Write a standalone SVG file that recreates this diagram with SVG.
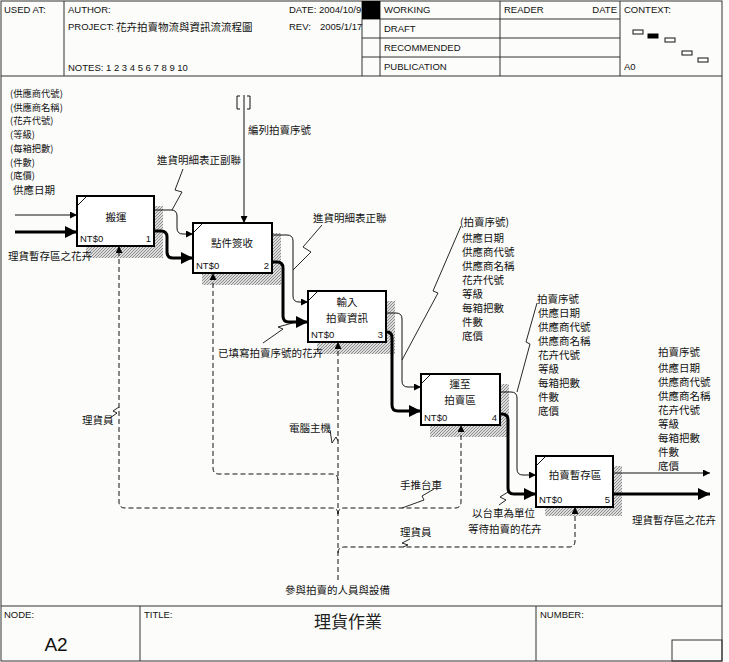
<svg xmlns="http://www.w3.org/2000/svg" width="729" height="662" viewBox="0 0 729 662">
<defs>
<style>
.hd{font-family:"Liberation Sans",Arial,sans-serif;font-size:9.5px;fill:#111}
.cj{font-family:"Noto Sans CJK TC","Noto Sans CJK SC",sans-serif;font-size:10.5px;fill:#111}
.sm{font-size:9.3px}
.ct{text-anchor:middle}
.bx{fill:#fff;stroke:#000;stroke-width:2}
.sh{fill:url(#hatch)}
.nt{font-family:"Liberation Sans",Arial,sans-serif;font-size:9.5px;fill:#111}
.t{fill:none;stroke:#111;stroke-width:1}
.k{fill:none;stroke:#000;stroke-width:3}
.d{fill:none;stroke:#111;stroke-width:1;stroke-dasharray:5,3}
.fr{fill:none;stroke:#333;stroke-width:1}
.sq{fill:none;stroke:#111;stroke-width:0.9}
</style>
<pattern id="hatch" width="3" height="3" patternUnits="userSpaceOnUse"><rect width="3" height="3" fill="#dcdcdc"/><path d="M0,3 L3,0" stroke="#7a7a7a" stroke-width="0.8"/></pattern>
<marker id="a" viewBox="0 0 10 10" refX="10" refY="5" markerWidth="9" markerHeight="7" markerUnits="userSpaceOnUse" orient="auto"><path d="M0,0 L10,5 L0,10 z" fill="#000"/></marker>
<marker id="ak" viewBox="0 0 10 10" refX="10" refY="5" markerWidth="15" markerHeight="12" markerUnits="userSpaceOnUse" orient="auto"><path d="M0,0 L10,5 L0,10 z" fill="#000"/></marker>
</defs>
<rect width="729" height="662" fill="#fcfcfa"/>

<g id="frame">
<rect class="fr" x="1" y="1" width="721" height="660"/>
<line class="fr" x1="1" y1="76" x2="722" y2="76"/>
<line class="fr" x1="64" y1="1" x2="64" y2="76"/>
<line class="fr" x1="362" y1="1" x2="362" y2="76"/>
<line class="fr" x1="380" y1="1" x2="380" y2="76"/>
<line class="fr" x1="500" y1="1" x2="500" y2="76"/>
<line class="fr" x1="620" y1="1" x2="620" y2="76"/>
<line class="fr" x1="362" y1="19" x2="620" y2="19"/>
<line class="fr" x1="362" y1="38" x2="620" y2="38"/>
<line class="fr" x1="362" y1="57" x2="620" y2="57"/>
<rect x="362" y="1" width="18" height="18" fill="#000"/>
<text class="hd" x="4" y="13">USED AT:</text>
<text class="hd" x="68" y="13">AUTHOR:</text>
<text class="hd" x="289" y="13" font-size="9">DATE: 2004/10/9</text>
<text class="hd" x="68" y="30">PROJECT:</text>
<text class="cj" x="116" y="31">花卉拍賣物流與資訊流流程圖</text>
<text class="hd" x="289" y="30">REV:</text>
<text class="hd" x="320" y="30">2005/1/17</text>
<text class="hd" x="68" y="71">NOTES: 1 2 3 4 5 6 7 8 9 10</text>
<text class="hd" x="384" y="13">WORKING</text>
<text class="hd" x="384" y="32">DRAFT</text>
<text class="hd" x="384" y="51">RECOMMENDED</text>
<text class="hd" x="384" y="70">PUBLICATION</text>
<text class="hd" x="504" y="13">READER</text>
<text class="hd" x="617" y="13" text-anchor="end">DATE</text>
<text class="hd" x="624" y="13">CONTEXT:</text>
<text class="hd" x="624" y="70">A0</text>
<rect x="633" y="30" width="10" height="4" fill="#fff" stroke="#111"/>
<rect x="648" y="34" width="10" height="4" fill="#000" stroke="#000"/>
<rect x="665" y="38" width="10" height="4" fill="#fff" stroke="#111"/>
<rect x="682" y="51" width="10" height="4" fill="#fff" stroke="#111"/>
<rect x="698" y="58" width="10" height="4" fill="#fff" stroke="#111"/>
<line class="fr" x1="1" y1="606" x2="722" y2="606"/>
<line class="fr" x1="140" y1="606" x2="140" y2="661"/>
<line class="fr" x1="536" y1="606" x2="536" y2="661"/>
<rect class="fr" x="672" y="640" width="50" height="21"/>
<text class="hd" x="4" y="618">NODE:</text>
<text class="hd" x="144" y="618">TITLE:</text>
<text class="hd" x="540" y="618">NUMBER:</text>
<text x="56" y="651" font-family="Liberation Sans, Arial, sans-serif" font-size="19" text-anchor="middle" fill="#111">A2</text>
<text x="348" y="628" font-family="Noto Sans CJK TC, sans-serif" font-size="17" text-anchor="middle" fill="#222">理貨作業</text>
</g>

<g id="n1">
<rect class="sh" x="86" y="206" width="77" height="52"/>
<rect class="bx" x="77" y="196" width="77" height="50"/>
<path class="t" d="M78,205 L86,197"/>
<text class="cj ct" x="116" y="221">搬運</text>
<text class="nt" x="80" y="242">NT$0</text>
<text class="nt" x="151" y="242" text-anchor="end">1</text>
</g>
<g id="n2">
<rect class="sh" x="202" y="233" width="79" height="52"/>
<rect class="bx" x="193" y="223" width="79" height="50"/>
<path class="t" d="M194,232 L202,224"/>
<text class="cj ct" x="232" y="247">點件簽收</text>
<text class="nt" x="196" y="269">NT$0</text>
<text class="nt" x="269" y="269" text-anchor="end">2</text>
</g>
<g id="n3">
<rect class="sh" x="317" y="301" width="78" height="53"/>
<rect class="bx" x="308" y="291" width="78" height="51"/>
<path class="t" d="M309,300 L317,292"/>
<text class="cj ct" x="347" y="306">輸入<tspan x="347" dy="16">拍賣資訊</tspan></text>
<text class="nt" x="311" y="338">NT$0</text>
<text class="nt" x="383" y="338" text-anchor="end">3</text>
</g>
<g id="n4">
<rect class="sh" x="430" y="384" width="79" height="53"/>
<rect class="bx" x="421" y="374" width="79" height="51"/>
<path class="t" d="M422,383 L430,375"/>
<text class="cj ct" x="460" y="388">運至<tspan x="460" dy="16">拍賣區</tspan></text>
<text class="nt" x="424" y="421">NT$0</text>
<text class="nt" x="497" y="421" text-anchor="end">4</text>
</g>
<g id="n5">
<rect class="sh" x="545" y="466" width="77" height="50"/>
<rect class="bx" x="536" y="456" width="77" height="51"/>
<path class="t" d="M537,465 L545,457"/>
<text class="cj ct" x="575" y="479">拍賣暫存區</text>
<text class="nt" x="539" y="503">NT$0</text>
<text class="nt" x="610" y="503" text-anchor="end">5</text>
</g>

<g id="connectors">
<path class="t" d="M15,215 H77" marker-end="url(#a)"/>
<path class="k" d="M15,232 H77" marker-end="url(#ak)"/>
<path class="t" d="M154,210 H171 Q177,210 177,216 V228 Q177,234 183,234 H193" marker-end="url(#a)"/>
<path class="k" d="M154,231 H161 Q167,231 167,237 V252 Q167,258 173,258 H193" marker-end="url(#ak)"/>
<path class="t" d="M244,95 V223" marker-end="url(#a)"/>
<path class="t" d="M240,96 H237 V109 H240 M247,96 H250 V109 H247"/>
<path class="t" d="M272,235 H287 Q293,235 293,241 V296 Q293,302 299,302 H308" marker-end="url(#a)"/>
<path class="k" d="M272,262 H277 Q283,262 283,268 V316 Q283,322 289,322 H308" marker-end="url(#ak)"/>
<path class="t" d="M386,313 H396 Q402,313 402,319 V381 Q402,387 408,387 H421" marker-end="url(#a)"/>
<path class="k" d="M386,332 H387 Q392,332 392,338 V405 Q392,411 398,411 H421" marker-end="url(#ak)"/>
<path class="t" d="M500,392 H511 Q517,392 517,398 V469 Q517,475 523,475 H536" marker-end="url(#a)"/>
<path class="k" d="M500,414 H502 Q508,414 508,420 V488 Q508,494 514,494 H536" marker-end="url(#ak)"/>
<path class="t" d="M613,473 H710" marker-end="url(#a)"/>
<path class="k" d="M613,494 H710" marker-end="url(#ak)"/>
<path class="d" d="M338,580 V342" marker-end="url(#a)"/>
<path class="d" d="M338,480 Q338,474 332,474 H219 Q213,474 213,468 V273" marker-end="url(#a)"/>
<path class="d" d="M338,514 Q338,508 332,508 H125 Q119,508 119,502 V246" marker-end="url(#a)"/>
<path class="d" d="M338,514 Q338,508 344,508 H455 Q461,508 461,502 V425" marker-end="url(#a)"/>
<path class="d" d="M338,553 Q338,547 344,547 H569 Q575,547 575,541 V507" marker-end="url(#a)"/>
<path class="sq" d="M183,169 L175,190 L182,192 L172,210"/>
<path class="sq" d="M322,225 L303,247 L311,252 L293,270"/>
<path class="sq" d="M263,343 L283,329 L278,327 L296,322"/>
<path class="sq" d="M461,226 L433,291 L438,293 L402,360"/>
<path class="sq" d="M537,303 L526,342 L530,344 L517,392"/>
<path class="sq" d="M499,505 L506,500 L500,497 L508,492"/>
<path class="sq" d="M110,418 L117,413 L113,411 L119,407"/>
<path class="sq" d="M330,430 L332,443 L336,437 L338,441"/>
<path class="sq" d="M434,489 L422,496 L424,500 L402,508"/>
<path class="sq" d="M410,539 L402,543 L408,545 L403,547"/>
</g>

<g id="labels">
<text class="cj sm" x="10" y="97">(供應商代號)</text>
<text class="cj sm" x="10" y="110.7">(供應商名稱)</text>
<text class="cj sm" x="10" y="124.4">(花卉代號)</text>
<text class="cj sm" x="10" y="138.1">(等級)</text>
<text class="cj sm" x="10" y="151.8">(每箱把數)</text>
<text class="cj sm" x="10" y="165.5">(件數)</text>
<text class="cj sm" x="10" y="179.2">(底價)</text>
<text class="cj" x="13" y="194">供應日期</text>
<text class="cj" x="8" y="260">理貨暫存區之花卉</text>
<text class="cj" x="157" y="164">進貨明細表正副聯</text>
<text class="cj" x="248" y="134">編列拍賣序號</text>
<text class="cj" x="313" y="222">進貨明細表正聯</text>
<text class="cj" x="218" y="357">已填寫拍賣序號的花卉</text>
<text class="cj" x="460" y="226">(拍賣序號)<tspan x="462" dy="16">供應日期</tspan><tspan x="462" dy="14">供應商代號</tspan><tspan x="462" dy="14">供應商名稱</tspan><tspan x="462" dy="14">花卉代號</tspan><tspan x="462" dy="14">等級</tspan><tspan x="462" dy="14">每箱把數</tspan><tspan x="462" dy="14">件數</tspan><tspan x="462" dy="14">底價</tspan></text>
<text class="cj" x="537" y="303">拍賣序號<tspan x="538" dy="14">供應日期</tspan><tspan x="538" dy="14">供應商代號</tspan><tspan x="538" dy="14">供應商名稱</tspan><tspan x="538" dy="14">花卉代號</tspan><tspan x="538" dy="14">等級</tspan><tspan x="538" dy="14">每箱把數</tspan><tspan x="538" dy="14">件數</tspan><tspan x="538" dy="14">底價</tspan></text>
<text class="cj" x="658" y="356">拍賣序號<tspan x="658" dy="16">供應日期</tspan><tspan x="658" dy="14">供應商代號</tspan><tspan x="658" dy="14">供應商名稱</tspan><tspan x="658" dy="14">花卉代號</tspan><tspan x="658" dy="14">等級</tspan><tspan x="658" dy="14">每箱把數</tspan><tspan x="658" dy="14">件數</tspan><tspan x="658" dy="14">底價</tspan></text>
<text class="cj" x="632" y="524">理貨暫存區之花卉</text>
<text class="cj" x="82" y="424">理貨員</text>
<text class="cj" x="289" y="432">電腦主機</text>
<text class="cj" x="400" y="489">手推台車</text>
<text class="cj" x="400" y="536">理貨員</text>
<text class="cj" x="472" y="517">以台車為單位<tspan x="468" dy="16">等待拍賣的花卉</tspan></text>
<text class="cj" x="285" y="594">參與拍賣的人員與設備</text>
</g>
</svg>
